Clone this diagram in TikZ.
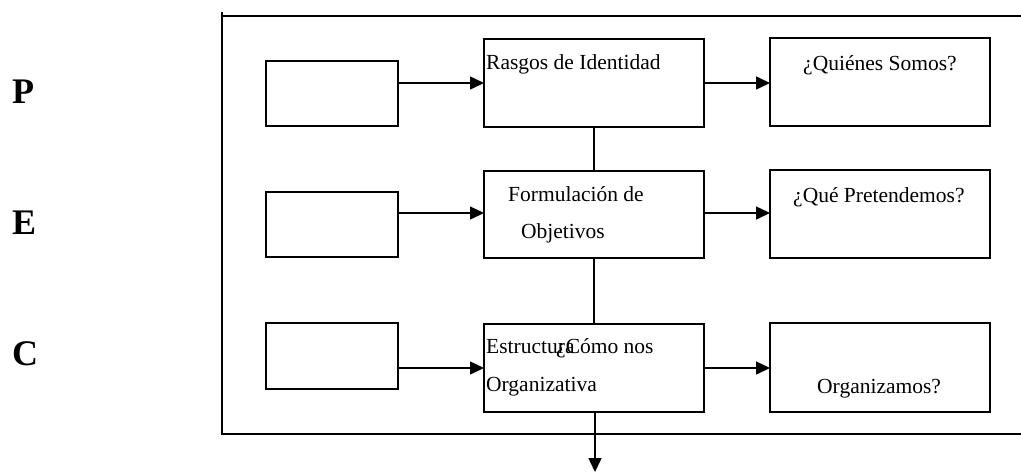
\documentclass[tikz,border=0pt]{standalone}
\usepackage{fontspec}
\setmainfont{Liberation Serif}
\usetikzlibrary{arrows.meta}
\begin{document}
\begin{tikzpicture}[x=1pt,y=-1pt,
  box/.style={draw,line width=2pt,minimum width=#1,inner sep=0pt,outer sep=0pt},
  conn/.style={line width=1.5pt,-{Triangle[length=14pt,width=13pt]}},
  plain/.style={line width=1.5pt},
  lbl/.style={anchor=base west,inner sep=0pt,font=\fontsize{21.5}{26}\selectfont},
  big/.style={anchor=base west,inner sep=0pt,font=\fontsize{36}{42}\selectfont\bfseries}]
\useasboundingbox (0,0) rectangle (1021,472);
% frame
\draw[line width=2pt] (222,12) -- (222,434) -- (1021,434);
\draw[line width=2pt] (222,15.5) -- (1021,15.5);
% letters
\node[big] (P) at (12,103) {P};
\node[big] (E) at (12,234) {E};
\node[big] (C) at (12,365) {C};
% left boxes
\node[box=132pt,minimum height=65pt] (L1) at (332,93.5) {};
\node[box=132pt,minimum height=65pt] (L2) at (332,224.5) {};
\node[box=132pt,minimum height=66pt] (L3) at (332,356) {};
% middle boxes
\node[box=220pt,minimum height=88pt] (M1) at (594,83) {};
\node[box=220pt,minimum height=87pt] (M2) at (594,214.5) {};
\node[box=220pt,minimum height=88pt] (M3) at (594,368) {};
% right boxes
\node[box=220pt,minimum height=88pt] (R1) at (880,82) {};
\node[box=220pt,minimum height=88pt] (R2) at (880,214) {};
\node[box=220pt,minimum height=89pt] (R3) at (880,367.5) {};
% texts
\node[lbl] (t1) at (486,69) {Rasgos de Identidad};
\node[lbl] (t2) at (508,201) {Formulación de};
\node[lbl] (t3) at (521,238) {Objetivos};
\node[lbl] (t4) at (486,353) {Estructura};
\node[lbl] (t5) at (556,353) {¿Cómo nos};
\node[lbl] (t6) at (486,391) {Organizativa};
\node[lbl] (t7) at (803,70) {¿Quiénes Somos?};
\node[lbl] (t8) at (793,202) {¿Qué Pretendemos?};
\node[lbl] (t9) at (817,393) {Organizamos?};
% connectors
\draw[conn] (L1.east |- M1.west) -- (M1.west);
\draw[conn] (L2.east |- 0,213) -- (M2.west |- 0,213);
\draw[conn] (L3.east |- M3.west) -- (M3.west);
\draw[conn] (M1.east) -- (R1.west |- M1.east);
\draw[conn] (M2.east |- 0,213) -- (R2.west |- 0,213);
\draw[conn] (M3.east) -- (R3.west |- M3.east);
\draw[plain] (M1.south) -- (M2.north);
\draw[plain] (M2.south) -- (M3.north);
\coordinate (bot) at (595,472);
\draw[conn] (M3.south -| bot) -- (bot);
\end{tikzpicture}
\end{document}
